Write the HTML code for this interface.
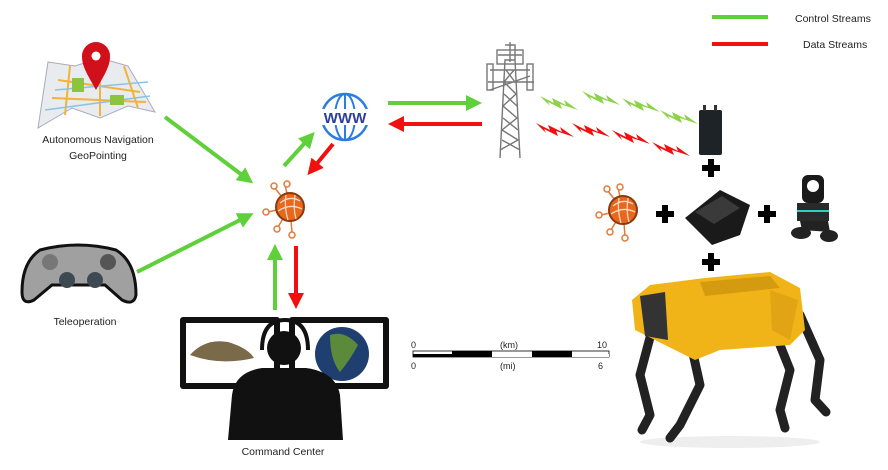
<!DOCTYPE html>
<html><head><meta charset="utf-8"><style>
html,body{margin:0;padding:0;background:#fff;}
svg{display:block;font-family:"Liberation Sans",sans-serif;}
</style></head><body>
<svg width="888" height="470" viewBox="0 0 888 470" xmlns="http://www.w3.org/2000/svg">
<defs>
<marker id="ag" markerWidth="4" markerHeight="4" refX="3" refY="2" orient="auto"><path d="M0,0 L4,2 L0,4 z" fill="#5fcf3a"/></marker>
<marker id="ar" markerWidth="4" markerHeight="4" refX="3" refY="2" orient="auto"><path d="M0,0 L4,2 L0,4 z" fill="#f01010"/></marker>
<g id="hub">
<g stroke="#e07a3a" stroke-width="1.5" fill="#fff">
<line x1="0" y1="0" x2="-16" y2="-20"/><circle cx="-16" cy="-21" r="3"/>
<line x1="0" y1="0" x2="-5" y2="-22"/><circle cx="-3" cy="-23" r="3"/>
<line x1="0" y1="0" x2="-22" y2="5"/><circle cx="-24" cy="5" r="3"/>
<line x1="0" y1="0" x2="-12" y2="20"/><circle cx="-13" cy="22" r="3"/>
<line x1="0" y1="0" x2="2" y2="26"/><circle cx="2" cy="28" r="3"/>
</g>
<circle r="14" fill="#e8671d" stroke="#8a3a10" stroke-width="2"/>
<path d="M-10,-4 Q0,-12 10,-6 M-12,4 Q0,-4 12,2 M-4,-12 Q-6,0 -2,13 M5,-12 Q3,2 6,12" stroke="#fbd8c0" stroke-width="1.3" fill="none"/>
</g>
<g id="plus"><rect x="-9" y="-3" width="18" height="6" fill="#000"/><rect x="-3" y="-9" width="6" height="18" fill="#000"/></g>
<path id="bolt" d="M0,0 L14,7 L12,2 L26,9 L24,4 L38,14 L20,8 L22,13 L8,6 L10,10 z"/>
</defs>

<line x1="712" y1="17" x2="768" y2="17" stroke="#5fcf3a" stroke-width="4"/>
<text x="795" y="22" font-size="10.5" fill="#222">Control Streams</text>
<line x1="712" y1="44" x2="768" y2="44" stroke="#f01010" stroke-width="4"/>
<text x="803" y="48" font-size="10.5" fill="#222">Data Streams</text>

<path d="M48,62 L75,66 L100,58 L128,66 L155,112 L128,106 L100,118 L72,108 L38,128 z" fill="#e8ecef" stroke="#aab" stroke-width="1"/>
<path d="M58,80 L140,92 M52,98 L146,102 M70,66 L65,115 M100,60 L100,116 M124,66 L138,108" stroke="#f3b23a" stroke-width="2" fill="none"/>
<path d="M55,90 L148,82 M45,110 L150,96" stroke="#8cc2e8" stroke-width="1.5" fill="none"/>
<rect x="72" y="78" width="12" height="14" fill="#8cc43f"/><rect x="110" y="95" width="14" height="10" fill="#8cc43f"/>
<path d="M96,90 C86,72 82,66 82,56 A14,14 0 0 1 110,56 C110,66 106,72 96,90 z" fill="#d0101a"/>
<circle cx="96" cy="56" r="4.5" fill="#fff"/>
<text x="98" y="143" font-size="10.5" text-anchor="middle" fill="#222">Autonomous Navigation</text>
<text x="98" y="159" font-size="10.5" text-anchor="middle" fill="#222">GeoPointing</text>

<path d="M40,250 Q78,240 116,250 Q136,262 136,295 Q134,306 122,300 L105,285 L52,285 L34,300 Q22,306 22,292 Q22,262 40,250 z" fill="#a0a0a0" stroke="#111" stroke-width="3"/>
<circle cx="50" cy="262" r="8" fill="#777"/><circle cx="108" cy="262" r="8" fill="#555"/>
<circle cx="67" cy="280" r="8" fill="#3e4a52"/><circle cx="95" cy="280" r="8" fill="#3e4a52"/>
<text x="85" y="325" font-size="10.5" text-anchor="middle" fill="#222">Teleoperation</text>

<line x1="165" y1="117" x2="250" y2="181" stroke="#5fcf3a" stroke-width="4" marker-end="url(#ag)"/>
<line x1="137" y1="272" x2="250" y2="215" stroke="#5fcf3a" stroke-width="4" marker-end="url(#ag)"/>
<line x1="284" y1="166" x2="312" y2="135" stroke="#5fcf3a" stroke-width="4" marker-end="url(#ag)"/>
<line x1="333" y1="144" x2="310" y2="172" stroke="#f01010" stroke-width="4" marker-end="url(#ar)"/>
<line x1="275" y1="310" x2="275" y2="248" stroke="#5fcf3a" stroke-width="4" marker-end="url(#ag)"/>
<line x1="296" y1="246" x2="296" y2="305" stroke="#f01010" stroke-width="4" marker-end="url(#ar)"/>
<line x1="388" y1="103" x2="478" y2="103" stroke="#5fcf3a" stroke-width="4" marker-end="url(#ag)"/>
<line x1="482" y1="124" x2="392" y2="124" stroke="#f01010" stroke-width="4" marker-end="url(#ar)"/>

<use href="#hub" x="290" y="207"/>

<circle cx="345" cy="117" r="23" fill="none" stroke="#2b7de0" stroke-width="2.5"/>
<ellipse cx="345" cy="117" rx="10" ry="23" fill="none" stroke="#2b7de0" stroke-width="2"/>
<line x1="322" y1="117" x2="368" y2="117" stroke="#2b7de0" stroke-width="2"/>
<line x1="345" y1="94" x2="345" y2="140" stroke="#2b7de0" stroke-width="2"/>
<rect x="320" y="109" width="50" height="16" fill="#fff"/>
<text x="345" y="123" font-size="15" font-weight="bold" text-anchor="middle" fill="#2a3f9a">WWW</text>

<g stroke="#777" stroke-width="1.4" fill="none">
<path d="M500,158 L505,60 L515,60 L520,158"/>
<path d="M500,150 L518,140 L502,130 L517,118 L503,106 L516,94 L504,82 L514,70 M520,150 L502,140 M518,130 L503,118 M517,106 L504,94 M515,82 L506,70"/>
<path d="M490,70 L530,70 M488,82 L534,82 M490,90 L530,76 M505,45 L515,45 L515,60 M510,42 L510,62 M498,55 L522,55"/>
<rect x="487" y="64" width="6" height="26"/><rect x="527" y="64" width="6" height="26"/>
<rect x="497" y="50" width="26" height="14"/>
</g>

<g fill="#8cd24a">
<use href="#bolt" x="540" y="96"/><use href="#bolt" x="582" y="91"/><use href="#bolt" x="622" y="98"/><use href="#bolt" x="660" y="110"/>
</g>
<g fill="#f01010">
<use href="#bolt" x="536" y="123"/><use href="#bolt" x="572" y="123"/><use href="#bolt" x="612" y="130"/><use href="#bolt" x="652" y="142"/>
</g>

<rect x="699" y="110" width="23" height="45" rx="2" fill="#1e2328"/>
<rect x="703" y="105" width="3" height="6" fill="#333"/><rect x="714" y="105" width="3" height="6" fill="#333"/>

<use href="#plus" x="711" y="168"/>
<use href="#plus" x="665" y="214"/>
<use href="#plus" x="767" y="214"/>
<use href="#plus" x="711" y="262"/>

<use href="#hub" x="623" y="210"/>

<path d="M685,218 L720,190 L750,205 L740,235 L712,245 z" fill="#1a1a1a"/>
<path d="M695,212 L722,196 L740,208 L714,224 z" fill="#3a3a3a"/>
<rect x="802" y="175" width="22" height="28" rx="6" fill="#1a1a1a"/>
<circle cx="813" cy="186" r="6" fill="#fff"/>
<rect x="797" y="203" width="32" height="18" fill="#2a2a2a"/>
<rect x="797" y="210" width="32" height="2" fill="#2ad0c0"/>
<ellipse cx="801" cy="233" rx="10" ry="6" fill="#222"/><ellipse cx="829" cy="236" rx="9" ry="6" fill="#222"/>
<path d="M800,221 L828,221 L830,232 L802,230 z" fill="#222"/>

<!-- dog -->
<ellipse cx="730" cy="442" rx="90" ry="6" fill="#eee"/>
<g stroke="#222" stroke-width="9" stroke-linecap="round" stroke-linejoin="round" fill="none">
<path d="M652,330 L640,375 L650,415 L642,430"/>
<path d="M690,340 L700,385 L680,425 L670,438"/>
<path d="M770,320 L790,370 L780,410 L785,428"/>
<path d="M800,315 L820,360 L815,400 L826,412"/>
</g>
<path d="M632,300 L650,285 L705,278 L770,272 L800,288 L805,330 L790,345 L720,350 L695,360 L665,345 L635,330 z" fill="#f0b418"/>
<path d="M640,296 L665,292 L668,340 L645,336 z" fill="#333"/>
<path d="M700,282 L770,276 L780,288 L705,296 z" fill="#d49a10"/>
<path d="M770,290 L798,300 L790,340 L772,330 z" fill="#e0a414"/>

<rect x="180" y="317" width="100" height="72" rx="3" fill="#111"/>
<rect x="186" y="323" width="88" height="60" fill="#fff"/>
<rect x="289" y="317" width="100" height="72" rx="3" fill="#111"/>
<rect x="295" y="323" width="88" height="60" fill="#fff"/>
<path d="M190,355 Q205,338 228,342 Q248,348 254,358 Q220,366 190,355 z" fill="#7a6a4a"/>
<circle cx="342" cy="354" r="27" fill="#1f3f70"/>
<path d="M330,335 Q345,330 358,345 Q350,360 340,372 Q330,360 330,335 z" fill="#5a8a3a"/>
<circle cx="284" cy="348" r="17" fill="#111"/>
<path d="M262,350 Q262,320 285,320 Q308,320 308,350" stroke="#111" stroke-width="4" fill="none"/>
<path d="M232,395 Q235,372 262,368 L306,368 Q336,372 340,395 L343,440 L228,440 z" fill="#111"/>
<text x="283" y="455" font-size="10.5" text-anchor="middle" fill="#222">Command Center</text>

<rect x="413" y="351" width="196" height="6" fill="#fff" stroke="#000" stroke-width="0.8"/>
<rect x="413" y="354" width="196" height="3" fill="#000"/>
<rect x="452" y="351" width="40" height="3" fill="#000"/><rect x="532" y="351" width="40" height="3" fill="#000"/>
<rect x="492" y="354" width="40" height="3" fill="#fff"/><rect x="572" y="354" width="37" height="3" fill="#fff"/>
<g font-size="9" fill="#222">
<text x="411" y="348">0</text><text x="500" y="348">(km)</text><text x="597" y="348">10</text>
<text x="411" y="369">0</text><text x="500" y="369">(mi)</text><text x="598" y="369">6</text>
</g>
</svg>
</body></html>
